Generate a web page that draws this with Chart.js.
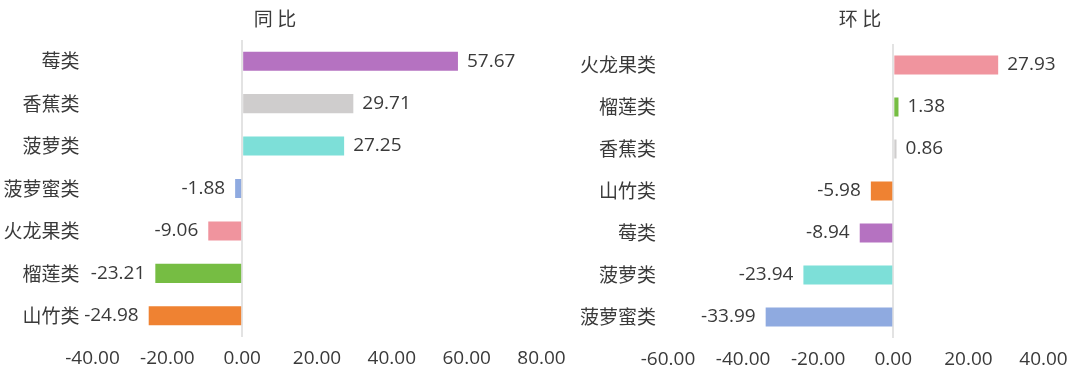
<!DOCTYPE html>
<html>
<head>
<meta charset="utf-8">
<script src="https://cdn.jsdelivr.net/npm/chart.js@4/dist/chart.umd.min.js"></script>
<style>
  html, body { margin: 0; padding: 0; background: #ffffff; }
  #wrap { position: relative; width: 1080px; height: 379px; overflow: hidden; }
  canvas { position: absolute; top: 0; }
  #c1 { left: 0; }
  #c2 { left: 540px; }
</style>
</head>
<body>
<div id="wrap">
  <canvas id="c1" width="580" height="379"></canvas>
  <canvas id="c2" width="540" height="379"></canvas>
</div>
<script>
// ---- data ----
const yoyTitle = '同 比';
const yoyCategories = ['莓类', '香蕉类', '菠萝类', '菠萝蜜类', '火龙果类', '榴莲类', '山竹类'];
const yoyValues = [57.67, 29.71, 27.25, -1.88, -9.06, -23.21, -24.98];
const yoyAxisMin = -40, yoyAxisMax = 80, yoyAxisStep = 20;

const momTitle = '环 比';
const momCategories = ['火龙果类', '榴莲类', '香蕉类', '山竹类', '莓类', '菠萝类', '菠萝蜜类'];
const momValues = [27.93, 1.38, 0.86, -5.98, -8.94, -23.94, -33.99];
const momAxisMin = -60, momAxisMax = 40, momAxisStep = 20;

// ---- styles ----
const fruitColors = {
  '莓类': '#b572c1',
  '香蕉类': '#cfcdcd',
  '菠萝类': '#7ddfd8',
  '菠萝蜜类': '#8faae0',
  '火龙果类': '#f0949e',
  '榴莲类': '#76bd43',
  '山竹类': '#ef8232'
};
const textColor = '#3a3a3a';
const numFont = '"Open Sans", "Noto Sans", sans-serif';
const cjkFont = '"Noto Sans CJK SC", sans-serif';

const valueLabelPlugin = {
  id: 'valueLabels',
  afterDatasetsDraw(chart) {
    const ctx = chart.ctx;
    const meta = chart.getDatasetMeta(0);
    const data = chart.data.datasets[0].data;
    ctx.save();
    ctx.font = '19px ' + numFont;
    ctx.fillStyle = textColor;
    ctx.textBaseline = 'middle';
    meta.data.forEach((bar, i) => {
      const v = data[i];
      const txt = v.toFixed(2);
      if (v >= 0) {
        ctx.textAlign = 'left';
        ctx.fillText(txt, bar.x + 9, bar.y);
      } else {
        ctx.textAlign = 'right';
        ctx.fillText(txt, bar.x - 10, bar.y);
      }
    });
    ctx.restore();
  }
};

const titlePlugin = {
  id: 'panelTitle',
  afterDraw(chart, args, opts) {
    const ctx = chart.ctx;
    ctx.save();
    ctx.font = '19px ' + cjkFont;
    ctx.fillStyle = textColor;
    ctx.textAlign = 'center';
    ctx.textBaseline = 'middle';
    ctx.fillText(opts.text, opts.x, opts.y);
    ctx.restore();
  }
};

function makeChart(canvasId, categories, values, min, max, step, title, box) {
  const canvas = document.getElementById(canvasId);
  const W = canvas.width, H = canvas.height;
  return new Chart(canvas, {
    type: 'bar',
    data: {
      labels: categories,
      datasets: [{
        data: values,
        backgroundColor: categories.map(c => fruitColors[c]),
        borderWidth: 0,
        barPercentage: 0.45,
        categoryPercentage: 1.0
      }]
    },
    options: {
      indexAxis: 'y',
      responsive: false,
      animation: false,
      devicePixelRatio: 1,
      layout: { padding: { left: 0, top: box.top, right: W - box.right, bottom: 0 } },
      plugins: {
        legend: { display: false },
        tooltip: { enabled: false },
        panelTitle: { text: title, x: box.titleX, y: box.titleY }
      },
      scales: {
        x: {
          type: 'linear',
          min: min,
          max: max,
          afterFit(scale) { scale.height = H - box.bottom; },
          ticks: {
            stepSize: step,
            autoSkip: false,
            maxRotation: 0,
            padding: 10,
            color: textColor,
            font: { size: 19, family: numFont },
            callback: v => Number(v).toFixed(2)
          },
          grid: {
            drawTicks: false,
            lineWidth: 2,
            color: c => (c.tick && c.tick.value === 0) ? '#e3e3e3' : 'rgba(0,0,0,0)'
          },
          border: { display: false }
        },
        y: {
          afterFit(scale) { scale.width = box.left; },
          ticks: {
            padding: box.labelPad,
            color: textColor,
            font: { size: 19, family: cjkFont }
          },
          grid: { display: false, drawTicks: false },
          border: { display: false }
        }
      }
    },
    plugins: [valueLabelPlugin, titlePlugin]
  });
}

makeChart('c1', yoyCategories, yoyValues, yoyAxisMin, yoyAxisMax, yoyAxisStep, yoyTitle,
  { left: 92.5, right: 541.5, top: 40, bottom: 337, titleX: 275, titleY: 19, labelPad: 13 });
makeChart('c2', momCategories, momValues, momAxisMin, momAxisMax, momAxisStep, momTitle,
  { left: 128, right: 503.5, top: 44, bottom: 338, titleX: 320, titleY: 19, labelPad: 12 });
</script>
</body>
</html>
